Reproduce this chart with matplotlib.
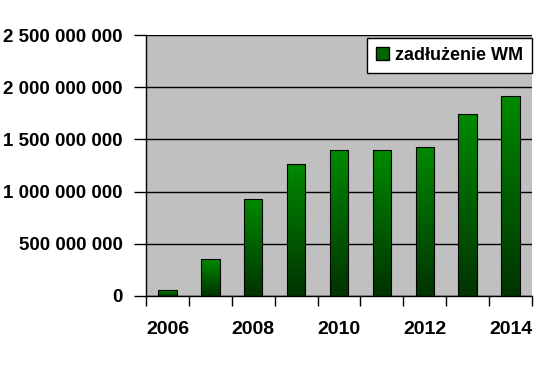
import numpy as np
import matplotlib.pyplot as plt
from matplotlib.ticker import FuncFormatter, FixedLocator
from matplotlib.colors import LinearSegmentedColormap
from matplotlib.patches import Rectangle

years = [2006, 2007, 2008, 2009, 2010, 2011, 2012, 2013, 2014]
debt = [55e6, 352e6, 926e6, 1262e6, 1398e6, 1398e6, 1424e6, 1740e6, 1913e6]
series_name = 'zadłużenie WM'

plt.rcParams['font.family'] = ['Liberation Sans', 'DejaVu Sans']
plt.rcParams['font.weight'] = 'bold'

green = LinearSegmentedColormap.from_list('g', ['#003300', '#008a00'])
grad = np.linspace(0, 1, 256).reshape(-1, 1)

fig = plt.figure(figsize=(5.5, 3.67), dpi=100)
ax = fig.add_axes([146 / 550, 1 - 296 / 367, 386 / 550, 261 / 367])
ax.set_facecolor('#c0c0c0')

x = np.arange(len(years))
bars = ax.bar(x, debt, width=0.43, facecolor='none', edgecolor='black', linewidth=0.8, zorder=3)
for b in bars:
    x0, y0 = b.get_x(), b.get_y()
    im = ax.imshow(grad, cmap=green, origin='lower', aspect='auto', zorder=2,
                   extent=[x0, x0 + b.get_width(), y0, y0 + b.get_height()])
    im.set_clip_path(b)

ax.set_xlim(-0.5, len(years) - 0.5)
ax.set_ylim(0, 2.5e9)
ax.set_yticks(np.arange(0, 2.5e9 + 1, 5e8))
ax.yaxis.set_major_formatter(FuncFormatter(lambda v, p: f'{int(v):,}'.replace(',', ' ')))
ax.yaxis.grid(True, color='black', linewidth=1)
ax.set_axisbelow(True)

ax.set_xticks(x[::2])
ax.set_xticklabels([str(y) for y in years[::2]])
ax.xaxis.set_minor_locator(FixedLocator(np.arange(-0.5, len(years), 1)))
ax.tick_params(axis='x', which='major', length=0, pad=18, labelsize=14)
ax.tick_params(axis='x', which='minor', length=7, width=1, color='black')
ax.tick_params(axis='y', length=9, width=1, pad=8, labelsize=13.5)

for s in ['top', 'right']:
    ax.spines[s].set_visible(False)
for s in ['left', 'bottom']:
    ax.spines[s].set_linewidth(1)

leg = ax.legend([Rectangle((0, 0), 1, 1, facecolor='#006400', edgecolor='black')], [series_name],
                loc='upper right', bbox_to_anchor=(1.0, 0.99), fontsize=13, frameon=True,
                fancybox=False, edgecolor='black', framealpha=1, handlelength=0.7,
                handleheight=0.7, handletextpad=0.35, borderaxespad=0.0, borderpad=0.5)
leg.get_frame().set_linewidth(1)

fig.savefig('out.png', dpi=100)
